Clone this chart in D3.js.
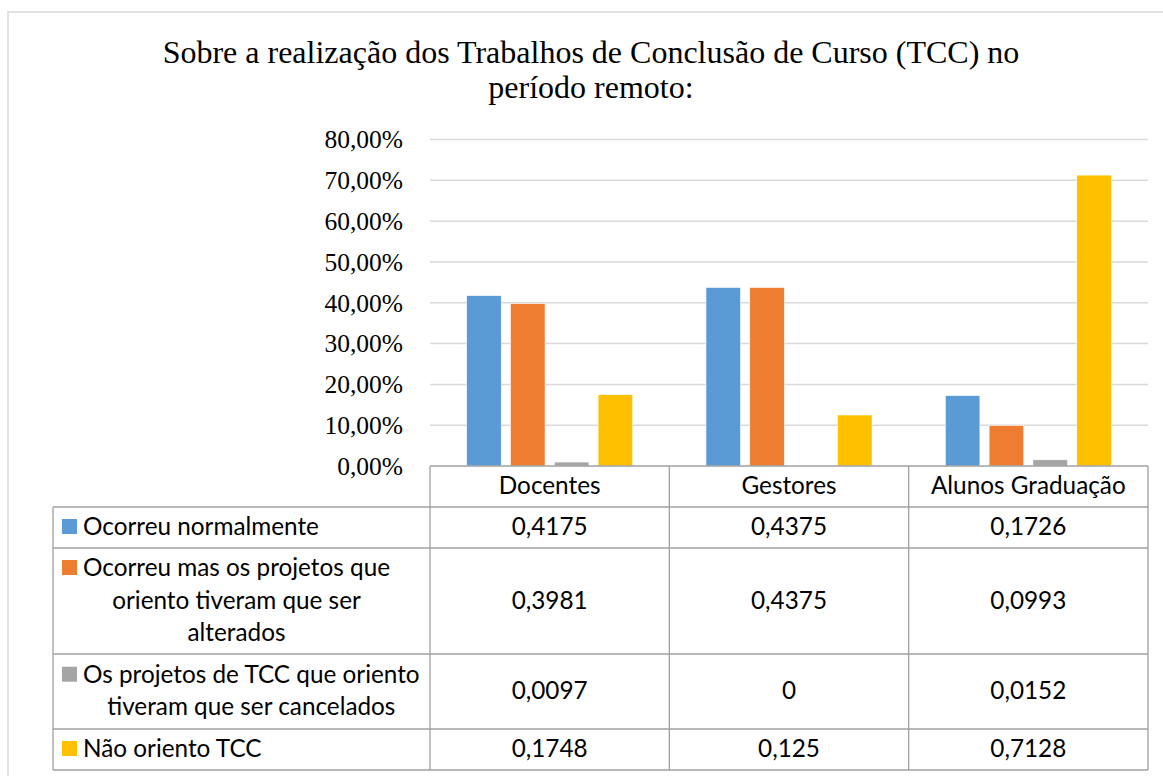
<!DOCTYPE html>
<html>
<head>
<meta charset="utf-8">
<script src="https://cdn.jsdelivr.net/npm/d3@7"></script>
<style>
  body { margin: 0; background: #fff; }
  svg { display: block; }
</style>
</head>
<body>
<svg width="1163" height="776"></svg>
<script>
// data
var categories = ["Docentes", "Gestores", "Alunos Graduação"];
var seriesNames = [
  ["Ocorreu normalmente"],
  ["Ocorreu mas os projetos que", "oriento tiveram que ser", "alterados"],
  ["Os projetos de TCC que oriento", "tiveram que ser cancelados"],
  ["Não oriento TCC"]
];
var normalmente = [0.4175, 0.4375, 0.1726];
var alterados = [0.3981, 0.4375, 0.0993];
var cancelados = [0.0097, 0, 0.0152];
var naoOriento = [0.1748, 0.125, 0.7128];
var valueLabels = [
  ["0,4175", "0,4375", "0,1726"],
  ["0,3981", "0,4375", "0,0993"],
  ["0,0097", "0", "0,0152"],
  ["0,1748", "0,125", "0,7128"]
];
var yTicks = [0, 0.1, 0.2, 0.3, 0.4, 0.5, 0.6, 0.7, 0.8];
var colors = ["#5B9BD5", "#ED7D31", "#A5A5A5", "#FFC000"];
var titleLines = ["Sobre a realização dos Trabalhos de Conclusão de Curso (TCC) no", "período remoto:"];

var seriesValues = [normalmente, alterados, cancelados, naoOriento];

var svg = d3.select("svg");
var plotLeft = 430, plotRight = 1148, plotBottom = 466, plotTop = 139.5;
var legendLeft = 53;
var rowEdges = [466, 507, 548, 654, 729, 770];
var tableFont = "Lato, 'Open Sans', sans-serif";
var tableSize = "24.3px";
var lineGap = 32.5;

var pt = d3.formatLocale({decimal: ",", thousands: ".", grouping: [3], currency: ["R$", ""]});
var pct = pt.format(".2%");

// outer frame
svg.append("rect")
  .attr("x", 8).attr("y", 12)
  .attr("width", 1200).attr("height", 800)
  .attr("fill", "#fff")
  .attr("stroke", "#D9D9D9")
  .attr("stroke-width", 1.5);

// title
svg.append("text")
  .attr("text-anchor", "middle")
  .attr("font-family", "'Liberation Serif', 'Times New Roman', serif")
  .attr("font-size", "32px")
  .attr("fill", "#000")
  .selectAll("tspan")
  .data(titleLines)
  .enter().append("tspan")
  .attr("x", 591)
  .attr("y", function(d, i) { return 63 + i * 34.5; })
  .text(function(d) { return d; });

var xScale = d3.scaleBand()
  .domain(categories)
  .range([plotLeft, plotRight]);
var bw = xScale.bandwidth();
var xInner = d3.scaleBand()
  .domain(d3.range(seriesValues.length))
  .range([bw * 0.153, bw * 0.847])
  .paddingInner(0.21);
var yScale = d3.scaleLinear()
  .domain([0, 0.8])
  .range([plotBottom, plotTop]);

// gridlines
svg.append("g")
  .selectAll("line")
  .data(yTicks.slice(1))
  .enter().append("line")
  .attr("x1", plotLeft).attr("x2", plotRight)
  .attr("y1", function(d) { return yScale(d); })
  .attr("y2", function(d) { return yScale(d); })
  .attr("stroke", "#D9D9D9")
  .attr("stroke-width", 1.5);

// y axis labels
var yAxis = svg.append("g")
  .attr("transform", "translate(" + (plotLeft - 27) + ",0)")
  .call(d3.axisLeft(yScale).tickValues(yTicks).tickFormat(pct).tickSize(0).tickPadding(0));
yAxis.select(".domain").remove();
yAxis.selectAll("text")
  .attr("font-family", "'Liberation Serif', 'Times New Roman', serif")
  .attr("font-size", "25.5px")
  .attr("fill", "#000")
  .attr("dy", "0.33em");

// bars
seriesValues.forEach(function(vals, s) {
  svg.append("g")
    .selectAll("rect")
    .data(vals)
    .enter().append("rect")
    .attr("x", function(d, i) { return xScale(categories[i]) + xInner(s); })
    .attr("y", function(d) { return yScale(d); })
    .attr("width", xInner.bandwidth())
    .attr("height", function(d) { return plotBottom - yScale(d); })
    .attr("fill", colors[s])
    .attr("stroke", function(d) { return d > 0 ? "#fff" : "none"; })
    .attr("stroke-width", 0.6);
});

// data table
var grid = svg.append("g")
  .attr("stroke", "#A0A0A0")
  .attr("stroke-width", 1.3)
  .attr("fill", "none");

var colEdges = categories.map(function(c) { return xScale(c); }).concat([plotRight]);

// header row (categories only)
grid.append("line").attr("x1", plotLeft).attr("x2", plotRight).attr("y1", rowEdges[0]).attr("y2", rowEdges[0]);
grid.selectAll(".hline")
  .data(rowEdges.slice(1))
  .enter().append("line")
  .attr("x1", legendLeft).attr("x2", plotRight)
  .attr("y1", function(d) { return d; })
  .attr("y2", function(d) { return d; });
grid.append("line").attr("x1", legendLeft).attr("x2", legendLeft)
  .attr("y1", rowEdges[1]).attr("y2", rowEdges[5]);
grid.selectAll(".vline")
  .data(colEdges)
  .enter().append("line")
  .attr("x1", function(d) { return d; }).attr("x2", function(d) { return d; })
  .attr("y1", rowEdges[0]).attr("y2", rowEdges[5]);

var cells = svg.append("g")
  .attr("font-family", tableFont)
  .attr("font-size", tableSize)
  .attr("fill", "#000");

// header labels
cells.selectAll(".cat")
  .data(categories)
  .enter().append("text")
  .attr("x", function(d) { return xScale(d) + bw / 2; })
  .attr("y", (rowEdges[0] + rowEdges[1]) / 2 + 7.5)
  .attr("text-anchor", "middle")
  .text(function(d) { return d; });

// values
valueLabels.forEach(function(row, r) {
  var cy = (rowEdges[r + 1] + rowEdges[r + 2]) / 2 + 7.5;
  cells.append("g")
    .selectAll("text")
    .data(row)
    .enter().append("text")
    .attr("x", function(d, i) { return xScale(categories[i]) + bw / 2; })
    .attr("y", cy)
    .attr("text-anchor", "middle")
    .text(function(d) { return d; });
});

// legend cells
var textStart = 83;
seriesNames.forEach(function(lines, r) {
  var cy = (rowEdges[r + 1] + rowEdges[r + 2]) / 2;
  var firstBase = cy + 7.5 - (lines.length - 1) * lineGap / 2;
  var g = cells.append("g");
  var texts = g.selectAll("text")
    .data(lines)
    .enter().append("text")
    .attr("y", function(d, i) { return firstBase + i * lineGap; })
    .text(function(d) { return d; });
  var widths = [];
  texts.each(function() { widths.push(this.getComputedTextLength()); });
  var maxW = d3.max(widths);
  if (lines.length === 1) {
    texts.attr("x", textStart).attr("text-anchor", "start");
  } else {
    texts.attr("x", textStart + maxW / 2).attr("text-anchor", "middle");
  }
  g.append("rect")
    .attr("x", 62)
    .attr("y", firstBase - 16)
    .attr("width", 15)
    .attr("height", 15)
    .attr("fill", colors[r]);
});
</script>
</body>
</html>
